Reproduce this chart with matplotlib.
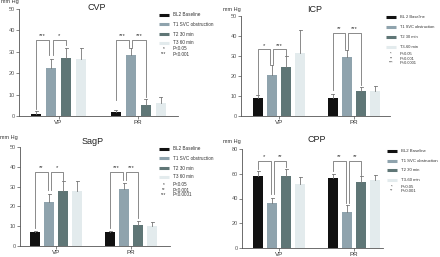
import matplotlib
matplotlib.use("Agg")
import matplotlib.pyplot as plt
from matplotlib.lines import Line2D
import numpy as np

plt.rcParams['font.family'] = ['Liberation Sans', 'DejaVu Sans']

W, H = 440, 257

groups = ["VP", "PR"]
colors = ['#111111', '#8fa3ad', '#5f7676', '#e3ebed']

# bar heights and upper error ends, per time point: [VP, PR]
cvp_mean = [[1.1, 1.7], [22.5, 28.7], [27.0, 5.3], [26.5, 6.3]]
cvp_err = [[1.2, 1.0], [4.3, 3.0], [5.0, 2.7], [5.2, 2.6]]
icp_mean = [[9.0, 9.2], [20.3, 29.3], [24.5, 12.5], [31.5, 12.7]]
icp_err = [[1.7, 2.0], [5.4, 3.9], [5.3, 2.0], [11.3, 2.1]]
sagp_mean = [[6.9, 7.2], [22.1, 29.0], [27.9, 10.6], [27.9, 9.9]]
sagp_err = [[0.5, 0.5], [4.2, 2.8], [5.1, 2.2], [5.1, 2.2]]
cpp_mean = [[58.3, 56.9], [36.5, 29.0], [58.5, 53.7], [51.8, 54.8]]
cpp_err = [[4.3, 3.2], [4.3, 5.4], [5.1, 4.8], [5.9, 4.2]]

# significance brackets: (group, bar_a, bar_b, top, left_end, right_end, stars)
cvp_sig = [(0, 0, 1, 35.6, 3.5, 28.5, '***'), (0, 1, 2, 35.6, 28.5, 33.0, '*'),
           (1, 0, 1, 35.6, 7.4, 32.4, '***'), (1, 1, 2, 35.6, 32.4, 9.0, '***')]
icp_sig = [(0, 0, 1, 33.3, 11.0, 26.0, '*'), (0, 1, 2, 33.3, 26.0, 30.0, '***'),
           (1, 0, 1, 41.5, 12.8, 33.7, '**'), (1, 1, 2, 41.5, 33.7, 15.3, '***')]
sagp_sig = [(0, 0, 1, 37.4, 9.0, 28.5, '**'), (0, 1, 2, 37.4, 28.5, 33.5, '*'),
            (1, 0, 1, 37.4, 9.0, 33.5, '***'), (1, 1, 2, 37.4, 33.5, 14.0, '***')]
cpp_sig = [(0, 0, 1, 70.6, 64.0, 44.0, '*'), (0, 1, 2, 70.6, 44.0, 65.8, '**'),
           (1, 0, 1, 70.6, 62.0, 36.0, '**'), (1, 1, 2, 70.6, 36.0, 59.0, '**')]

cvp_labels = ["BL2 Baseline", "T1 SVC obstruction", "T2 30 min", "T3 60 min"]
icp_labels = ["BL 2 Baseline", "T1 SVC obstruction", "T2 30 min", "T3-60 min"]
sagp_labels = ["BL2 Baseline", "T1 SVC obstruction", "T2 30 min", "T3 60 min"]
cpp_labels = ["BL2 Baseline", "T1 SVC obstruction", "T2 30 min", "T3-60 min"]

cvp_p = [('*', 'P<0.05'), ('***', 'P<0.001')]
icp_p = [('*', 'P<0.05'), ('**', 'P<0.001'), ('***', 'P<0.0001')]
sagp_p = [('*', 'P<0.05'), ('**', 'P<0.001'), ('***', 'P<0.0001')]
cpp_p = [('*', 'P<0.05'), ('**', 'P<0.001')]


def fx(x):
    return x / W


def fy(y):
    return 1 - y / H


fig = plt.figure(figsize=(W / 100, H / 100), dpi=100, facecolor='white')


def panel(title, means, errs, sig, labels, plabels, box, ymax, step,
          c0, dist, pitch, title_xy, unit_xy, leg_x, leg_y, leg_fs=3.3):
    left, right, top, bottom = box
    ax = fig.add_axes([fx(left), fy(bottom), fx(right - left), (bottom - top) / H])
    off = pitch / dist
    width = 10 / dist
    x = np.arange(len(groups))
    for k in range(4):
        xs = x + (k - 1.5) * off
        ax.bar(xs, means[k], width, color=colors[k], zorder=2)
        tops = np.array(means[k]) + np.array(errs[k])
        for xi, m, t in zip(xs, means[k], tops):
            ax.plot([xi, xi], [m, t], color='#777777', lw=0.6, zorder=3)
            ax.plot([xi - width * 0.15, xi + width * 0.15], [t, t], color='#777777', lw=0.6, zorder=3)
    for g, a, b, yt, yl, yr, stars in sig:
        xa = g + (a - 1.5) * off + (0.02 if a == 1 else 0)
        xb = g + (b - 1.5) * off - (0.02 if b == 1 else 0)
        ax.plot([xa, xa, xb, xb], [yl, yt, yt, yr], color='#777777', lw=0.6, zorder=4)
        ax.text((xa + xb) / 2, yt + ymax * 0.015, stars, ha='center', va='bottom',
                fontsize=4.2, color='#333333')
    ax.set_xlim((left - c0) / dist, (right - c0) / dist)
    ax.set_ylim(0, ymax)
    ax.set_yticks(np.arange(0, ymax + 1, step))
    ax.set_xticks(x)
    ax.set_xticklabels(groups)
    for s in ['top', 'right']:
        ax.spines[s].set_visible(False)
    for s in ['left', 'bottom']:
        ax.spines[s].set_color('#555555')
        ax.spines[s].set_linewidth(0.6)
    ax.tick_params(axis='y', labelsize=4, length=2, width=0.5, pad=1,
                   colors='#555555', labelcolor='#555555')
    ax.tick_params(axis='x', labelsize=4.5, length=2, width=0.5, pad=1,
                   colors='#555555', labelcolor='#333333')
    ax.patch.set_alpha(0)

    fig.text(fx(title_xy[0]), fy(title_xy[1]), title, ha='center', va='center',
             fontsize=6.5, color='#222222')
    fig.text(fx(unit_xy[0]), fy(unit_xy[1]), "mm Hg", ha='left', va='center',
             fontsize=4, color='#333333')
    for k, lab in enumerate(labels):
        yy = leg_y[k]
        fig.add_artist(Line2D([fx(leg_x), fx(leg_x + 10)], [fy(yy), fy(yy)],
                              transform=fig.transFigure, color=colors[k], lw=2.2,
                              solid_capstyle='butt'))
        fig.text(fx(leg_x + 14), fy(yy), lab, ha='left', va='center',
                 fontsize=leg_fs, color='#333333')
    for k, (sym, lab) in enumerate(plabels):
        yy = leg_y[4 + k]
        fig.text(fx(leg_x + 5), fy(yy), sym, ha='center', va='center',
                 fontsize=leg_fs, color='#333333')
        fig.text(fx(leg_x + 14), fy(yy), lab, ha='left', va='center',
                 fontsize=leg_fs, color='#333333')
    return ax


panel("CVP", cvp_mean, cvp_err, cvp_sig, cvp_labels, cvp_p,
      (19, 178, 9, 116), 50, 10, 58.5, 79.5, 15, (97, 8), (1, 2),
      159, [15, 24, 34, 43, 49, 54])
panel("ICP", icp_mean, icp_err, icp_sig, icp_labels, icp_p,
      (241, 390, 16, 116), 50, 10, 279, 75, 14.2, (315, 9), (223, 9),
      386, [17, 27, 37, 47, 54, 59, 63], leg_fs=2.9)
panel("SagP", sagp_mean, sagp_err, sagp_sig, sagp_labels, sagp_p,
      (20, 170, 147, 246), 50, 10, 56, 75, 14, (93, 141), (0, 138),
      159, [149, 158, 168, 177, 185, 190, 195])
panel("CPP", cpp_mean, cpp_err, cpp_sig, cpp_labels, cpp_p,
      (242, 383, 149, 248), 80, 20, 279, 75, 14, (317, 140), (223, 141),
      387, [151, 161, 170, 180, 187, 191], leg_fs=3.1)

fig.savefig("out.png", dpi=100, facecolor='white')
